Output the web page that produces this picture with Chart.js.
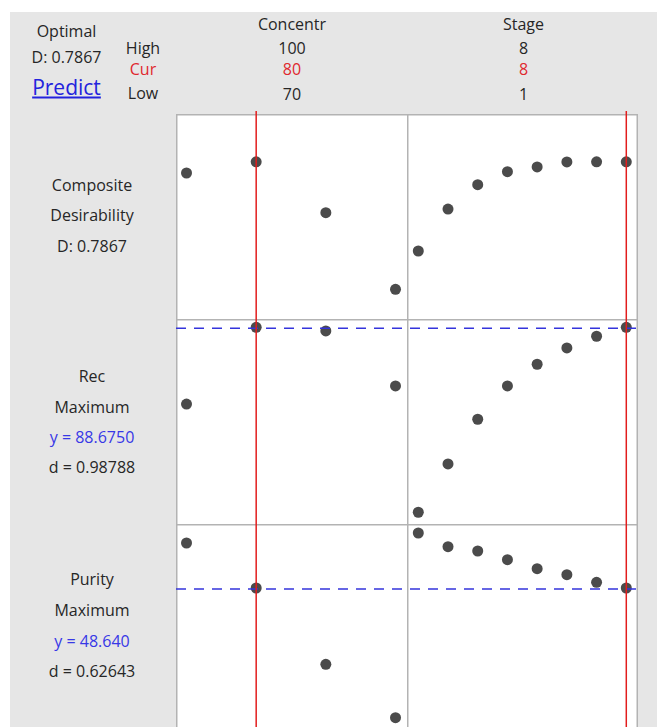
<!DOCTYPE html>
<html>
<head>
<meta charset="utf-8">
<script src="https://cdn.jsdelivr.net/npm/chart.js@4.4.1/dist/chart.umd.min.js"></script>
<style>
  html, body { margin:0; padding:0; background:#ffffff; width:657px; height:727px; overflow:hidden; }
  #bg { position:absolute; left:10px; top:12px; width:647px; height:715px; background:#e6e6e6; }
  .t { position:absolute; transform:translate(-50%,-50%); white-space:nowrap; line-height:1;
       font-family:"Open Sans","Noto Sans",sans-serif; font-size:16px; color:#262626; }
  .red { color:#e0282e; }
  .blue { color:#3838e6; }
  .link { color:#2323dd; font-size:21px; text-decoration:underline; text-underline-offset:2px; }
  canvas { position:absolute; }
</style>
</head>
<body>
<div id="bg"></div>

<div class="t" style="left:66.5px; top:31px;">Optimal</div>
<div class="t" style="left:66.5px; top:57px;">D: 0.7867</div>
<div class="t link" style="left:66.5px; top:87px;">Predict</div>

<div class="t" style="left:143px; top:47.5px;">High</div>
<div class="t red" style="left:143px; top:69px;">Cur</div>
<div class="t" style="left:143px; top:93px;">Low</div>

<div id="hdr"></div>

<div class="t" style="left:92px; top:184.5px;">Composite</div>
<div class="t" style="left:92px; top:215px;">Desirability</div>
<div class="t" style="left:92px; top:245.5px;">D: 0.7867</div>

<div class="t" style="left:92px; top:376px;">Rec</div>
<div class="t" style="left:92px; top:406.5px;">Maximum</div>
<div class="t blue" style="left:92px; top:437px;">y = 88.6750</div>
<div class="t" style="left:92px; top:467px;">d = 0.98788</div>

<div class="t" style="left:92px; top:578.5px;">Purity</div>
<div class="t" style="left:92px; top:610px;">Maximum</div>
<div class="t blue" style="left:92px; top:640.5px;">y = 48.640</div>
<div class="t" style="left:92px; top:671px;">d = 0.62643</div>

<script>
// ---- factor settings ----
const factorNames = ["Concentr", "Stage"];
const factorHigh  = [100, 8];
const factorCur   = [80, 8];
const factorLow   = [70, 1];

// ---- factor levels ----
const concentrLevels = [70, 80, 90, 100];
const stageLevels    = [1, 2, 3, 4, 5, 6, 7, 8];

// ---- composite desirability ----
const compositeByConcentr = [0.7585, 0.7867, 0.6587, 0.4663];
const compositeByStage    = [0.5625, 0.6680, 0.7291, 0.7617, 0.7736, 0.7862, 0.7866, 0.7867];

// ---- Rec response ----
const recByConcentr = [81.00, 88.675, 88.31, 82.81];
const recByStage    = [70.18, 75.01, 79.48, 82.81, 84.98, 86.61, 87.78, 88.675];
const recCur = 88.675;

// ---- Purity response ----
const purityByConcentr = [53.14, 48.64, 41.01, 35.67];
const purityByStage    = [54.14, 52.77, 52.34, 51.47, 50.57, 49.97, 49.21, 48.64];
const purityCur = 48.64;

// header texts
const hdr = document.getElementById('hdr');
const colCenters = [292, 523.5];
factorNames.forEach((name, i) => {
  const rows = [[name, 24, ''], [String(factorHigh[i]), 47.5, ''], [String(factorCur[i]), 69, 'red'], [String(factorLow[i]), 94, '']];
  rows.forEach(([txt, y, cls]) => {
    const d = document.createElement('div');
    d.className = 't ' + cls;
    d.style.left = colCenters[i] + 'px';
    d.style.top = y + 'px';
    d.textContent = txt;
    hdr.appendChild(d);
  });
});

const decor = {
  id: 'decor',
  beforeDatasetsDraw(chart, args, opts) {
    const { ctx, chartArea: a } = chart;
    ctx.save();
    ctx.fillStyle = '#ffffff';
    ctx.fillRect(a.left, a.top, a.right - a.left, a.bottom - a.top);
    ctx.strokeStyle = '#b3b3b3';
    ctx.lineWidth = 1.5;
    ctx.beginPath();
    ctx.moveTo(a.left + 0.75, a.top); ctx.lineTo(a.left + 0.75, a.bottom);
    ctx.moveTo(a.left, a.top + 0.75); ctx.lineTo(a.right, a.top + 0.75);
    if (opts.right) { ctx.moveTo(a.right - 0.75, a.top); ctx.lineTo(a.right - 0.75, a.bottom); }
    ctx.stroke();
    ctx.restore();
  },
  afterDatasetsDraw(chart, args, opts) {
    const { ctx, chartArea: a, scales } = chart;
    ctx.save();
    if (opts.target !== null && opts.target !== undefined) {
      const y = scales.y.getPixelForValue(opts.target) + 1;
      ctx.strokeStyle = '#3434dc';
      ctx.lineWidth = 1.5;
      ctx.setLineDash([10, 8]);
      ctx.lineDashOffset = opts.dashOffset || 0;
      ctx.beginPath();
      ctx.moveTo(a.left, y); ctx.lineTo(a.right, y);
      ctx.stroke();
      ctx.setLineDash([]);
    }
    const x = scales.x.getPixelForValue(opts.cur);
    ctx.strokeStyle = '#e21d1d';
    ctx.lineWidth = 1.5;
    ctx.beginPath();
    ctx.moveTo(x, 0); ctx.lineTo(x, chart.height);
    ctx.stroke();
    ctx.restore();
  }
};

const colDefs = [
  { left: 176, width: 231, levels: concentrLevels, min: 68.49, max: 101.65, cur: factorCur[0], right: false },
  { left: 407, width: 231, levels: stageLevels,    min: 0.62,  max: 8.394,  cur: factorCur[1], right: true }
];
const rowDefs = [
  { top: 111, height: 208, padTop: 3, min: 0.3917, max: 0.9067, series: [compositeByConcentr, compositeByStage], target: null },
  { top: 319, height: 205, padTop: 0, min: 69.005, max: 89.505, series: [recByConcentr, recByStage], target: recCur },
  { top: 524, height: 205, padTop: 0, min: 34.54,  max: 55.04,  series: [purityByConcentr, purityByStage], target: purityCur }
];

rowDefs.forEach(r => {
  colDefs.forEach((c, ci) => {
    const cv = document.createElement('canvas');
    cv.width = c.width; cv.height = r.height;
    cv.style.left = c.left + 'px'; cv.style.top = r.top + 'px';
    cv.style.width = c.width + 'px'; cv.style.height = r.height + 'px';
    document.body.appendChild(cv);
    const vals = r.series[ci];
    new Chart(cv, {
      type: 'scatter',
      data: { datasets: [{
        data: c.levels.map((lv, i) => ({ x: lv, y: vals[i] })),
        backgroundColor: '#4b4b4b',
        borderWidth: 0,
        pointRadius: 5.5,
        pointHoverRadius: 5.5,
        clip: false
      }]},
      options: {
        responsive: false,
        animation: false,
        devicePixelRatio: 1,
        layout: { autoPadding: false, padding: { top: r.padTop, left: 0, right: 0, bottom: 0 } },
        scales: {
          x: { type: 'linear', min: c.min, max: c.max, display: false },
          y: { type: 'linear', min: r.min, max: r.max, display: false }
        },
        plugins: {
          legend: { display: false },
          tooltip: { enabled: false },
          decor: { cur: c.cur, target: r.target, right: c.right, dashOffset: ci === 0 ? 0 : (c.left - 176) % 18 }
        },
        events: []
      },
      plugins: [decor]
    });
  });
});
</script>
</body>
</html>
